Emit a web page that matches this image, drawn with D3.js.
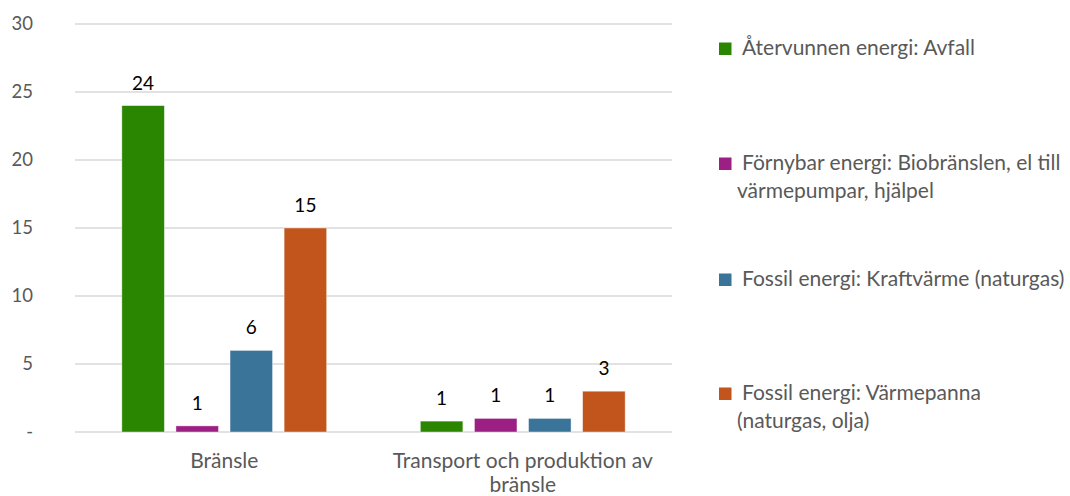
<!DOCTYPE html>
<html>
<head>
<meta charset="utf-8">
<script src="https://cdn.jsdelivr.net/npm/d3@7"></script>
<style>
  html, body { margin: 0; padding: 0; background: #fff; }
  svg { display: block; }
  text { font-family: Lato, "Open Sans", sans-serif; }
</style>
</head>
<body>
<svg id="chart" width="1070" height="496"></svg>
<script>
// ---- data ----
const categories = ["Bränsle", "Transport och produktion av bränsle"];
const categoryLines = [["Bränsle"], ["Transport och produktion av", "bränsle"]];
const seriesNames = [
  "Återvunnen energi: Avfall",
  "Förnybar energi: Biobränslen, el till värmepumpar, hjälpel",
  "Fossil energi: Kraftvärme (naturgas)",
  "Fossil energi: Värmepanna (naturgas, olja)"
];
const legendLines = [
  ["Återvunnen energi: Avfall"],
  ["Förnybar energi: Biobränslen, el till", "värmepumpar, hjälpel"],
  ["Fossil energi: Kraftvärme (naturgas)"],
  ["Fossil energi: Värmepanna", "(naturgas, olja)"]
];
const seriesColors = ["#2a8500", "#9c1f84", "#3a7599", "#c1551c"];
// values[series][category]
const avfall = [24.0, 0.8];
const fornybar = [0.45, 1.0];
const kraftvarme = [6.0, 1.0];
const varmepanna = [15.0, 3.0];
const seriesValues = [avfall, fornybar, kraftvarme, varmepanna];
const valueLabels = [["24", "1"], ["1", "1"], ["6", "1"], ["15", "3"]];
const yTicks = [0, 5, 10, 15, 20, 25, 30];
const yTickLabels = ["-", "5", "10", "15", "20", "25", "30"];

// ---- layout ----
const svg = d3.select("#chart");
const plot = { left: 75, right: 672, top: 24, bottom: 432 };

const x0 = d3.scaleBand().domain(categories).range([plot.left, plot.right]).padding(0);
const x1 = d3.scaleBand().domain(d3.range(seriesNames.length))
  .range([0, x0.bandwidth()]).paddingInner(0.214).paddingOuter(0.866);
const y = d3.scaleLinear().domain([0, 30]).range([plot.bottom, plot.top]);

// gridlines
svg.append("g").selectAll("line").data(yTicks).join("line")
  .attr("x1", plot.left).attr("x2", plot.right)
  .attr("y1", d => y(d)).attr("y2", d => y(d))
  .attr("stroke", "#d9d9d9").attr("stroke-width", 1.3);

// y axis labels
const yAxis = d3.axisLeft(y).tickValues(yTicks)
  .tickFormat((d, i) => yTickLabels[i]).tickSize(0).tickPadding(0);
const ya = svg.append("g").attr("transform", "translate(33,0)").call(yAxis);
ya.select(".domain").remove();
ya.selectAll("text").attr("font-size", 18.5).attr("fill", "#595959")
  .attr("font-family", "Lato, sans-serif");

// bars
const groups = svg.append("g").selectAll("g").data(categories).join("g")
  .attr("transform", c => `translate(${x0(c)},0)`);
groups.each(function (c, ci) {
  const g = d3.select(this);
  seriesValues.forEach((vals, si) => {
    const v = vals[ci];
    g.append("rect")
      .attr("x", x1(si)).attr("width", x1.bandwidth())
      .attr("y", y(v)).attr("height", y(0) - y(v))
      .attr("fill", seriesColors[si])
      .attr("stroke", "#ffffff").attr("stroke-opacity", 0.5).attr("stroke-width", 0.8);
    g.append("text")
      .attr("x", x1(si) + x1.bandwidth() / 2)
      .attr("y", y(v) - 16)
      .attr("text-anchor", "middle")
      .attr("font-size", 19).attr("fill", "#000")
      .text(valueLabels[si][ci]);
  });
});

// category labels
categories.forEach((c, ci) => {
  const t = svg.append("text")
    .attr("x", x0(c) + x0.bandwidth() / 2)
    .attr("y", 468)
    .attr("text-anchor", "middle")
    .attr("font-size", 21).attr("fill", "#595959");
  categoryLines[ci].forEach((line, li) => {
    t.append("tspan").attr("x", x0(c) + x0.bandwidth() / 2)
      .attr("dy", li === 0 ? 0 : 24).text(line);
  });
});

// legend
const legendY = [55, 170, 286, 400];
const legend = svg.append("g");
seriesNames.forEach((name, si) => {
  const by = legendY[si];
  legend.append("rect")
    .attr("x", 719).attr("y", by - 12.5).attr("width", 12.5).attr("height", 12.5)
    .attr("fill", seriesColors[si]);
  const t = legend.append("text").attr("font-size", 21).attr("fill", "#595959").attr("y", by);
  legendLines[si].forEach((line, li) => {
    t.append("tspan").attr("x", li === 0 ? 742 : 737)
      .attr("dy", li === 0 ? 0 : 28).text(line);
  });
});
</script>
</body>
</html>
